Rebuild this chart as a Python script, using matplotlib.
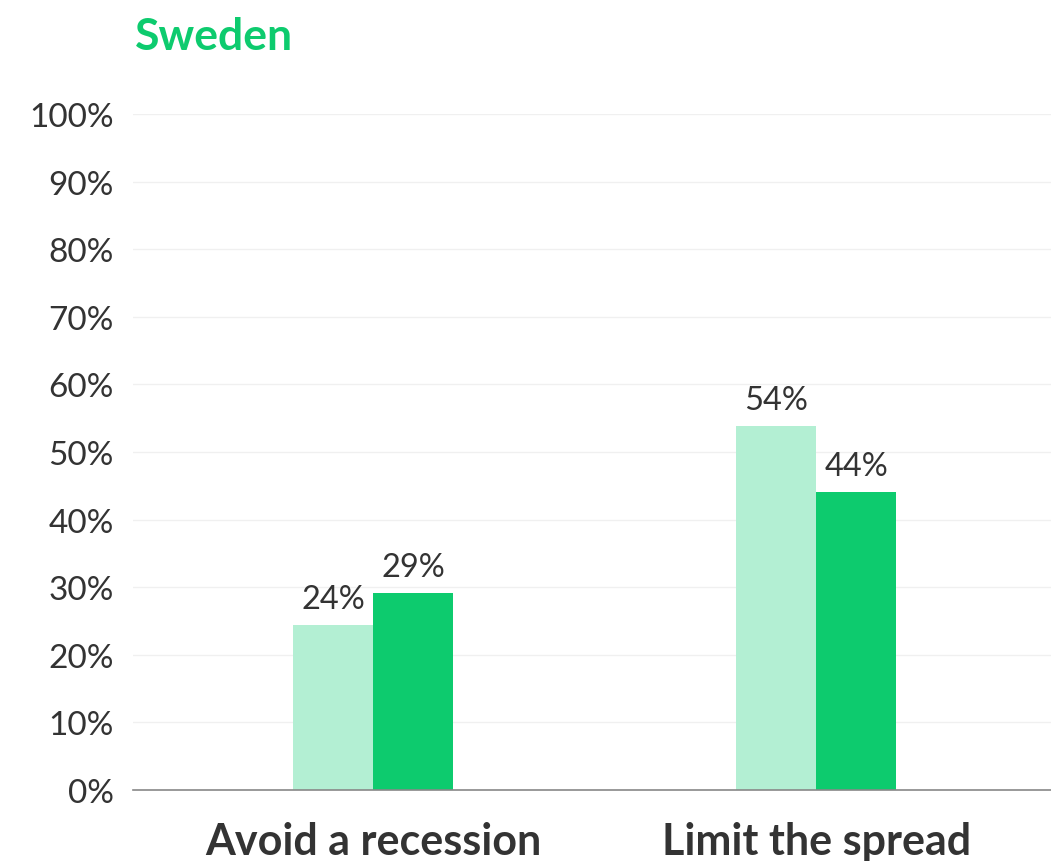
import matplotlib
matplotlib.use('Agg')
import matplotlib.pyplot as plt
import numpy as np

plt.rcParams['font.family'] = ['Lato', 'DejaVu Sans']

categories = ['Avoid a recession', 'Limit the spread']
series_a = [24.4, 53.9]   # light green
series_b = [29.1, 44.1]   # dark green
yticks = [0, 10, 20, 30, 40, 50, 60, 70, 80, 90, 100]

light = '#b3efd3'
dark = '#0dcb6e'
txt = '#333333'

fig = plt.figure(figsize=(10.51, 8.62), dpi=100)
ax = fig.add_axes([133/1051, 1 - 791/862, 1 - 133/1051, (791 - 115)/862])

x = np.arange(len(categories))
w = 0.18
b1 = ax.bar(x - w/2, series_a, w, color=light, zorder=2)
b2 = ax.bar(x + w/2, series_b, w, color=dark, zorder=2)

for bars, vals in ((b1, series_a), (b2, series_b)):
    for r, v in zip(bars, vals):
        ax.text(r.get_x() + r.get_width()/2, v + 1.6, f'{round(v)}%',
                ha='center', va='bottom', fontsize=23.5, color=txt)

ax.set_xlim(-0.542, 1.530)
ax.set_ylim(0, 100)
ax.set_yticks(yticks)
ax.set_yticklabels([f'{t}%' for t in yticks], fontsize=24, color=txt)
ax.set_xticks(x)
ax.set_xticklabels(categories, fontsize=31, fontweight='bold', color=txt)
ax.tick_params(axis='y', length=0, pad=14)
ax.tick_params(axis='x', length=0, pad=22)
ax.grid(axis='y', color='#f0f0f0', linewidth=1, zorder=0)
for s in ['top', 'right', 'left']:
    ax.spines[s].set_visible(False)
ax.spines['bottom'].set_color('#888888')
ax.spines['bottom'].set_linewidth(1.2)
ax.spines['bottom'].set_zorder(3)

fig.text(135/1051, 1 - 37/862, 'Sweden', fontsize=32, fontweight='bold', color=dark,
         ha='left', va='center')

fig.savefig('out.png', dpi=100)
